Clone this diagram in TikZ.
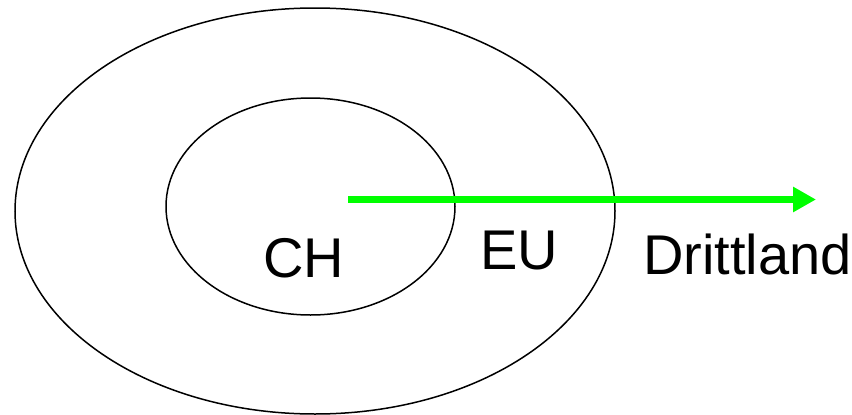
\documentclass[tikz,border=0pt]{standalone}
\usepackage{fontspec}
\setmainfont{Liberation Sans}
\usepackage{tikz}
\usetikzlibrary{arrows.meta, shapes.geometric}
\definecolor{zn-green}{RGB}{0,255,0}
\tikzset{
  zn@ring/.style={
    draw=black, line width=1.5pt, ellipse, inner sep=0pt
  },
  zn@lbl/.style={
    anchor=base, inner sep=0pt, font=\fontsize{56}{60}\selectfont
  },
  zn@arr/.style={-{Triangle[length=23pt, width=24pt]}, line width=7pt, zn-green},
}
\begin{document}
\begin{tikzpicture}[x=1pt, y=-1pt]
  \useasboundingbox (0,0) rectangle (852,415);
  \node[zn@ring, minimum width=600pt, minimum height=406pt] (eu) at (315,211) {};
  \node[zn@ring, minimum width=289pt, minimum height=217pt] (ch) at (310.5,206.5) {};
  \node[zn@lbl] (chlbl)  at (304,277)   {CH};
  \node[zn@lbl] (eulbl)  at (519,269)   {EU};
  \node[zn@lbl] (dritt)  at (747.5,274) {Drittland};
  \coordinate (start) at (348,199.5);
  \coordinate (goal)  at (816,199.5);
  \draw[zn@arr] (start) -- (goal);
\end{tikzpicture}
\end{document}
